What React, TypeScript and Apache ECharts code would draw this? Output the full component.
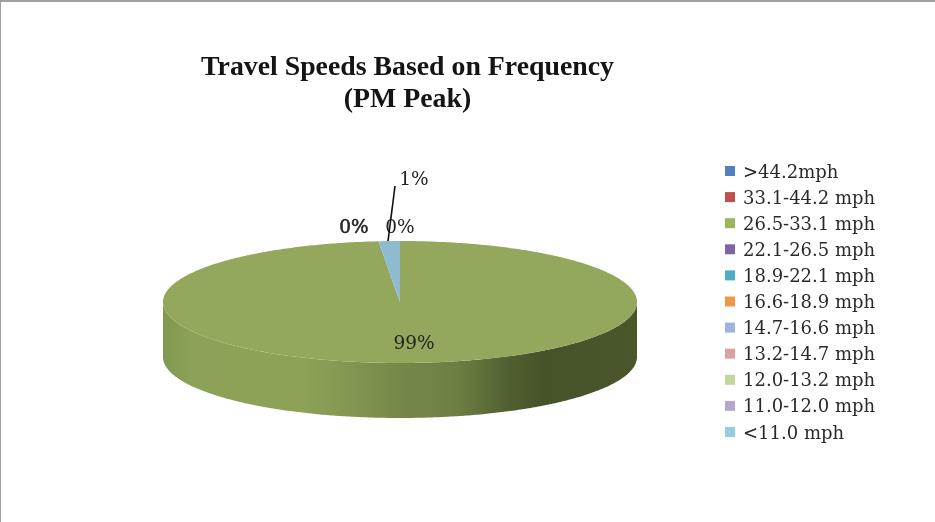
import React, { useEffect, useRef } from "react";
import * as echarts from "echarts";

const TITLE = "Travel Speeds Based on Frequency\n(PM Peak)";
const CATEGORIES = [
  ">44.2mph", "33.1-44.2 mph", "26.5-33.1 mph", "22.1-26.5 mph", "18.9-22.1 mph", "16.6-18.9 mph",
  "14.7-16.6 mph", "13.2-14.7 mph", "12.0-13.2 mph", "11.0-12.0 mph", "<11.0 mph",
];
const VALUES = [0, 0, 98.55, 0, 0, 0, 0, 0, 0, 0, 1.45];
const LEGEND_COLORS = [
  "#4F81BD", "#C0504D", "#9BB55C", "#8064A2", "#4BACC6", "#F09647",
  "#9DB5DC", "#DDA0A0", "#C3D69B", "#B4A7CB", "#98CBDF",
];
const TOP_COLORS: Record<number, string> = { 2: "#93A85C", 10: "#8FBBD1" };
const WALL_STOPS: [number, string][] = [
  [0, "#80984F"], [0.06, "#8CA258"], [0.3, "#8CA257"], [0.42, "#7F9350"], [0.5, "#768848"],
  [0.62, "#6D7F43"], [0.73, "#505F30"], [0.8, "#465329"], [1, "#4A572B"],
];

const CX = 400, CY = 302, RX = 237, RY = 61, DEPTH = 55;
const TITLE_FONT = "Liberation Serif";
const FONT = "DejaVu Serif";
const LABELS: Record<number, { x: number; y: number; heavy?: boolean }> = {
  0: { x: 400, y: 226 },
  1: { x: 354, y: 226, heavy: true },
  2: { x: 414, y: 342 },
  10: { x: 414, y: 178 },
};
const TOTAL = VALUES.reduce((a, b) => a + b, 0);

function pt(t: number, dy = 0): number[] {
  return [CX + RX * Math.sin(t), CY - RY * Math.cos(t) + dy];
}

function arc(a: number, b: number, dy = 0): number[][] {
  const n = Math.max(2, Math.ceil(Math.abs(b - a) / 0.01));
  const out: number[][] = [];
  for (let i = 0; i <= n; i++) out.push(pt(a + ((b - a) * i) / n, dy));
  return out;
}

function makeRenderItem(index: number) {
  const before = VALUES.slice(0, index).reduce((a, b) => a + b, 0);
  return (_params: unknown, api: any) => {
    const value = api.value(0);
    const start = (before / TOTAL) * Math.PI * 2;
    const end = ((before + value) / TOTAL) * Math.PI * 2;
    const children: any[] = [];
    if (value > 0) {
      const from = Math.max(start, Math.PI / 2);
      const to = Math.min(end, (Math.PI * 3) / 2);
      if (to > from) {
        children.push({
          type: "polygon",
          silent: true,
          shape: { points: [...arc(from, to), ...arc(to, from, DEPTH)] },
          style: {
            fill: new echarts.graphic.LinearGradient(0, 0, 1, 0,
              WALL_STOPS.map(([offset, color]) => ({ offset, color }))),
          },
        });
      }
      children.push({
        type: "polygon",
        silent: true,
        shape: { points: [[CX, CY], ...arc(start, end)] },
        style: { fill: TOP_COLORS[index] ?? LEGEND_COLORS[index] },
      });
    }
    if (index === 10) {
      children.push({
        type: "line",
        silent: true,
        shape: { x1: 395, y1: 186, x2: 388, y2: 241 },
        style: { stroke: "#111", lineWidth: 1.6 },
      });
    }
    const label = LABELS[index];
    if (label) {
      children.push({
        type: "text",
        silent: true,
        x: label.x,
        y: label.y,
        style: {
          text: `${Math.round((value / TOTAL) * 100)}%`,
          fill: "#222",
          font: `18.5px "${FONT}"`,
          align: "center",
          verticalAlign: "middle",
          stroke: label.heavy ? "#222" : undefined,
          lineWidth: label.heavy ? 0.5 : 0,
        },
      });
    }
    return { type: "group", children };
  };
}

export default function App() {
  const ref = useRef<HTMLDivElement>(null);
  useEffect(() => {
    document.body.style.margin = "0";
    const chart = echarts.init(ref.current!, null, { renderer: "svg" });
    chart.setOption({
      animation: false,
      backgroundColor: "#fff",
      color: LEGEND_COLORS,
      title: {
        text: TITLE,
        left: 402.5,
        top: 44,
        textAlign: "center",
        textStyle: { fontFamily: TITLE_FONT, fontSize: 27.8, fontWeight: "bold", color: "#141414", lineHeight: 32 },
      },
      legend: {
        orient: "vertical",
        left: 725,
        top: 159,
        padding: 0,
        icon: "rect",
        itemWidth: 10,
        itemHeight: 10,
        itemGap: 2.1,
        data: CATEGORIES,
        selectedMode: false,
        textStyle: { fontFamily: FONT, fontSize: 18, color: "#2a2a2a", lineHeight: 24, padding: [0, 0, 0, 3] },
      },
      graphic: [
        { type: "rect", silent: true, shape: { x: 0, y: 0, width: 935, height: 2 }, style: { fill: "#A0A0A0" } },
        { type: "rect", silent: true, shape: { x: 0, y: 0, width: 1, height: 522 }, style: { fill: "#A0A0A0" } },
      ],
      series: CATEGORIES.map((name, i) => ({
        type: "custom",
        name,
        coordinateSystem: "none",
        data: [[VALUES[i]]],
        renderItem: makeRenderItem(i),
      })),
    });
    return () => chart.dispose();
  }, []);
  return <div ref={ref} style={{ width: 935, height: 522, filter: "blur(0.4px)" }} />;
}
